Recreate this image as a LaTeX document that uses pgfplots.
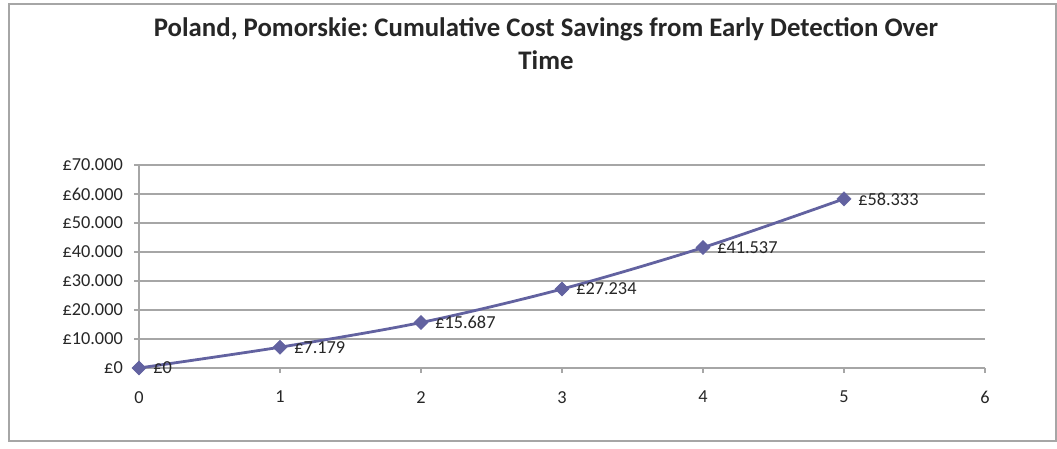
\documentclass[border=0pt]{standalone}
\usepackage{fontspec}
\setmainfont{Carlito}
\usepackage{pgfplots}
\pgfplotsset{compat=1.18}
\definecolor{serie}{HTML}{6262A0}
\definecolor{gridc}{HTML}{A6A6A6}
\definecolor{txt}{HTML}{262626}
\frenchspacing
\begin{document}
\begin{tikzpicture}[x=1pt,y=1pt]
\useasboundingbox (0,0) rectangle (1057,448);
\draw[gridc, line width=1.5pt] (9,7) rectangle (1056,444);
\node[font=\fontsize{26.8}{30}\selectfont\bfseries, text=txt, anchor=base, inner sep=0pt] at (546,411) {Poland, Pomorskie: Cumulative Cost Savings from Early Detection Over};
\node[font=\fontsize{26.8}{30}\selectfont\bfseries, text=txt, anchor=base, inner sep=0pt] at (546,378) {Time};
\begin{axis}[
  at={(139pt,80pt)}, anchor=south west,
  scale only axis, width=846pt, height=203pt,
  xmin=0, xmax=6, ymin=0, ymax=70000,
  scaled y ticks=false,
  axis lines*=left,
  axis line style={gridc, line width=1.2pt, -},
  ymajorgrids, grid style={gridc, line width=1.2pt},
  tick align=outside, major tick length=5pt,
  tick style={gridc, line width=1.2pt},
  xtick={0,1,2,3,4,5,6}, xticklabels={0,1,2,3,4,5,6},
  ytick={0,10000,20000,30000,40000,50000,60000,70000},
  yticklabels={£0,£10.000,£20.000,£30.000,£40.000,£50.000,£60.000,£70.000},
  ticklabel style={font=\fontsize{18.3}{22}\selectfont, text=txt, inner sep=0pt},
  yticklabel style={anchor=east, xshift=-11pt},
  xticklabel style={anchor=north, yshift=-18pt},
  clip=false,
]
\addplot[serie, line width=2.8pt, smooth, mark=square*, mark size=5pt,
  mark options={rotate=45, fill=serie, draw=serie, line width=0.5pt},
  point meta=explicit symbolic,
  nodes near coords,
  every node near coord/.style={anchor=west, xshift=14pt, inner sep=0pt, font=\fontsize{18.3}{22}\selectfont, text=txt},
] coordinates {
  (0,0) [£0]
  (1,7179) [£7.179]
  (2,15687) [£15.687]
  (3,27234) [£27.234]
  (4,41537) [£41.537]
  (5,58333) [£58.333]
};
\end{axis}
\end{tikzpicture}
\end{document}
